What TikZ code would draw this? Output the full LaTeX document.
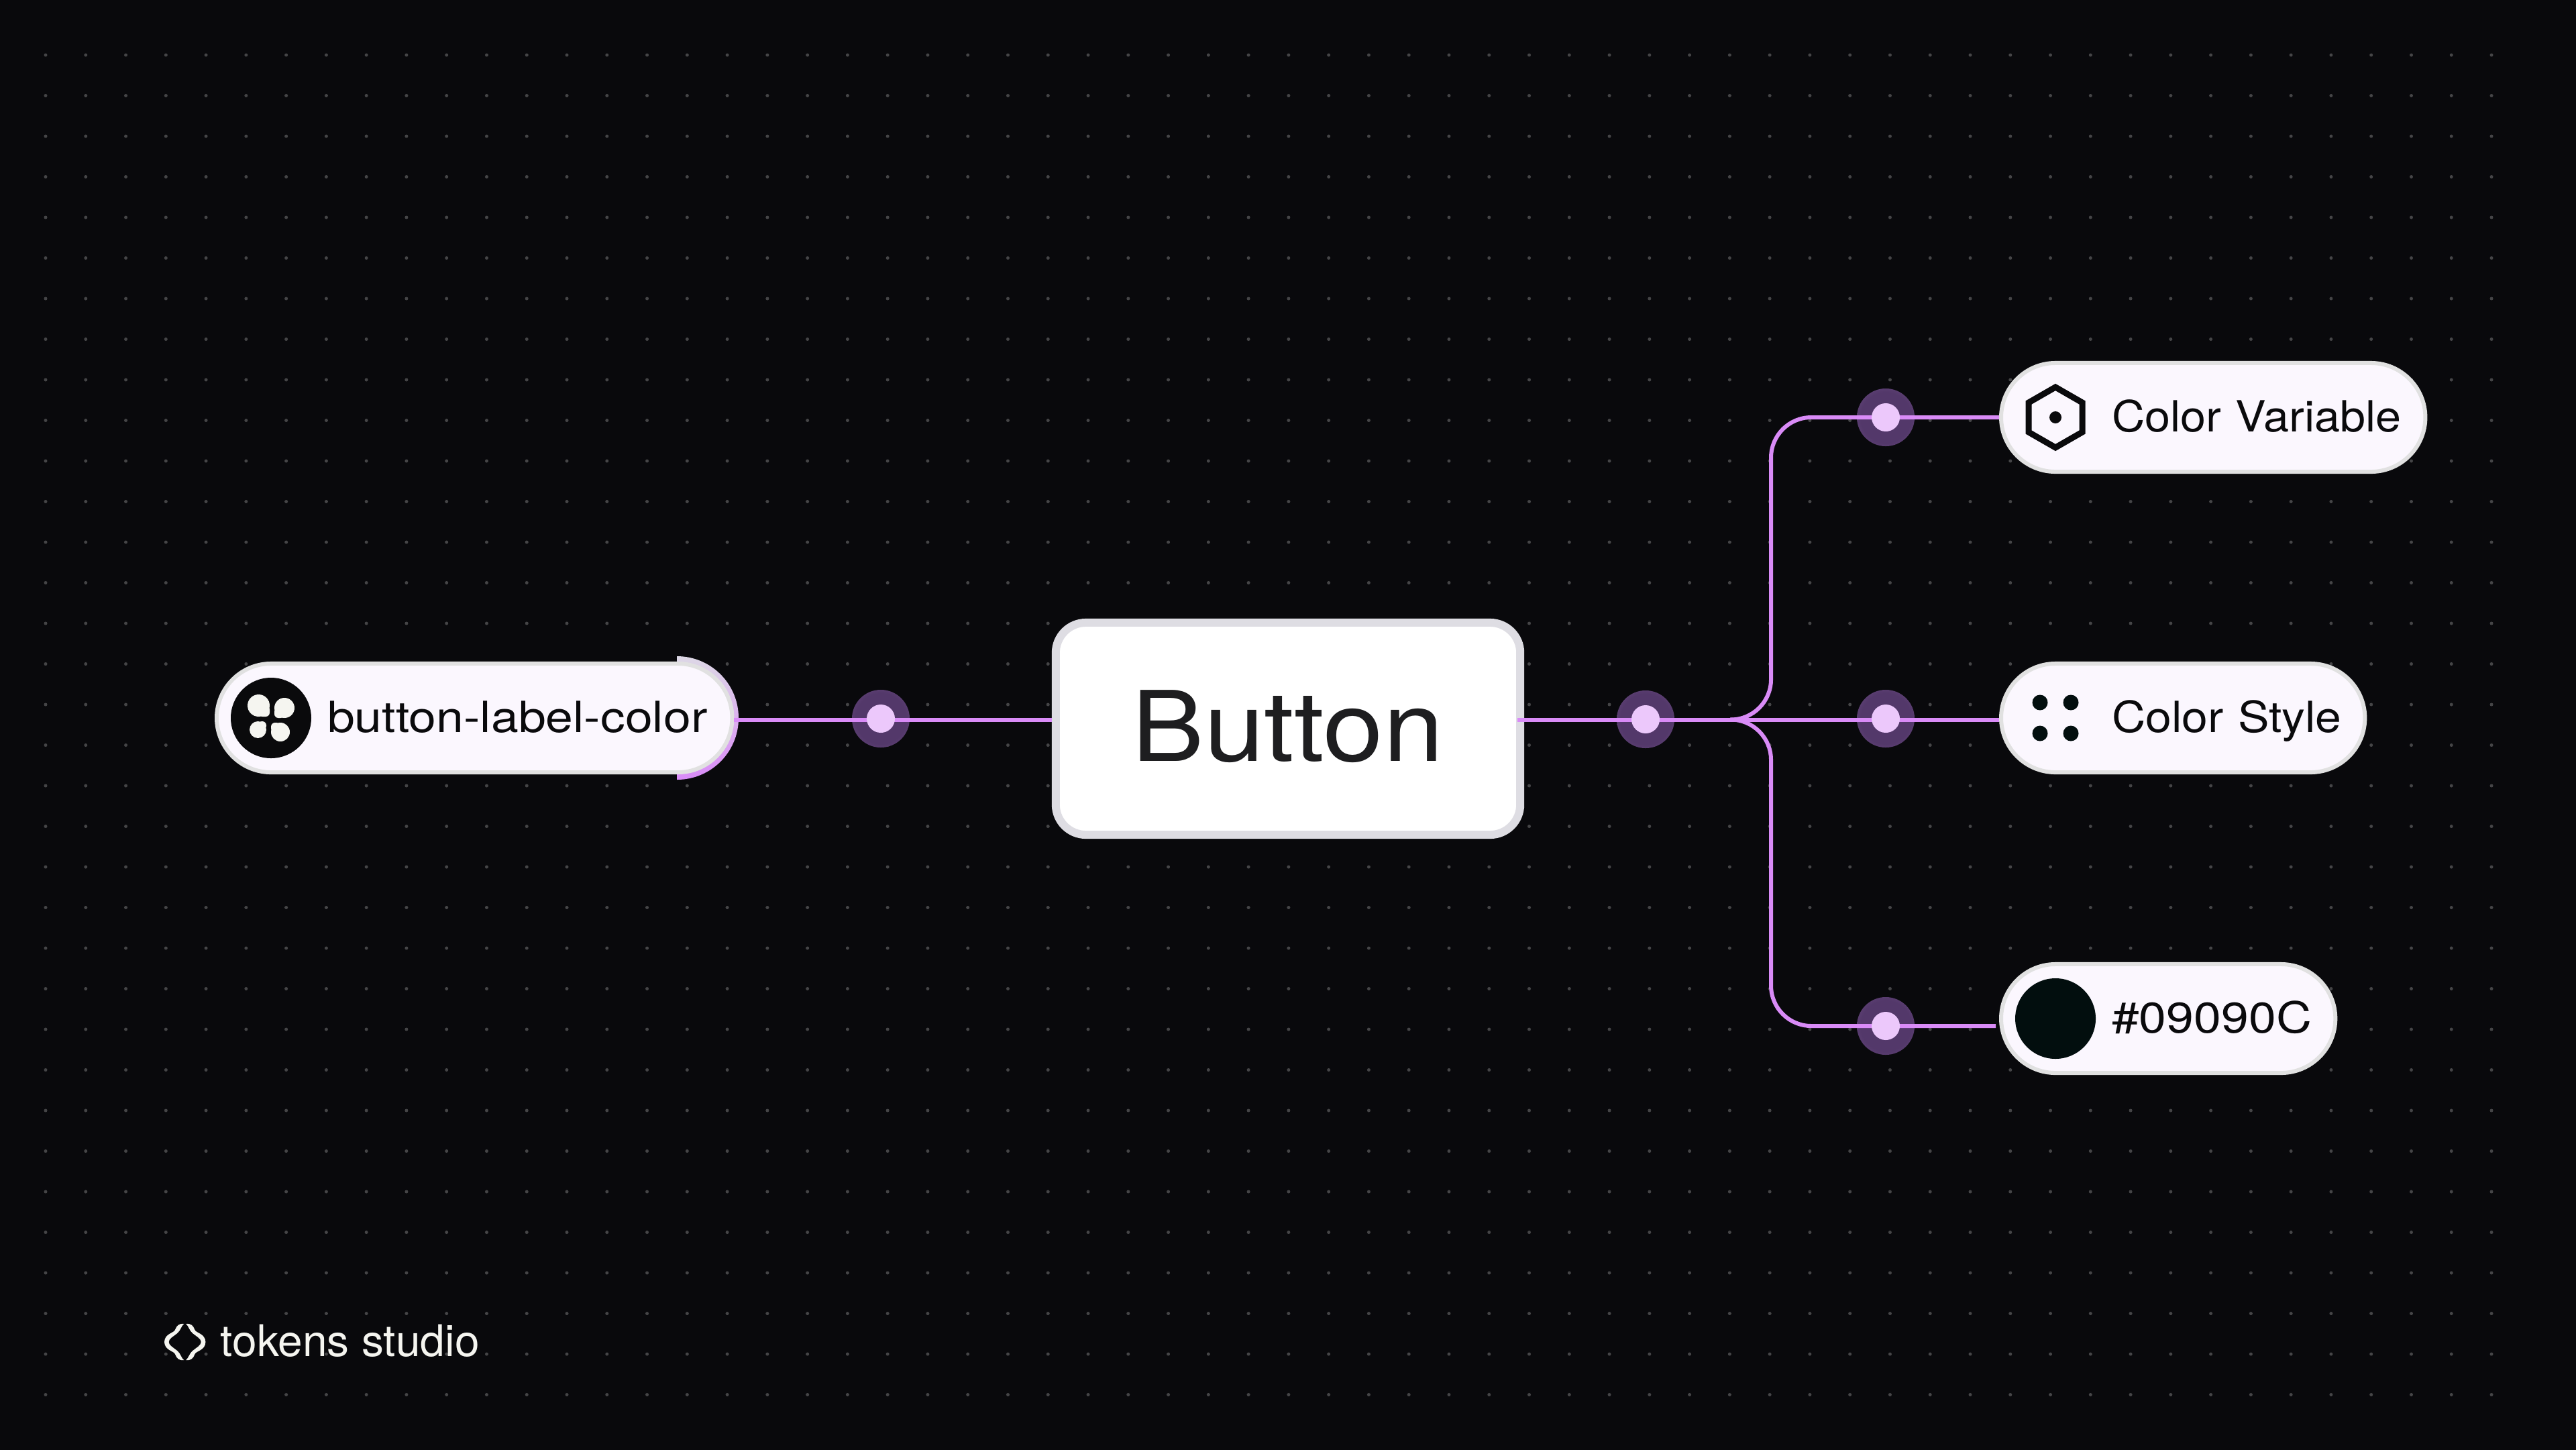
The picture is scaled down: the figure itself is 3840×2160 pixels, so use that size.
\documentclass[tikz,border=0pt]{standalone}
\usepackage{fontspec}
\setmainfont{TeX Gyre Heros}
\definecolor{StudioBlack}{HTML}{09090C}
\definecolor{StudioGrid}{HTML}{454547}
\definecolor{StudioWire}{HTML}{D98BF7}
\definecolor{StudioWireFade}{HTML}{DDD8E6}
\definecolor{StudioDot}{HTML}{ECC8FB}
\definecolor{StudioHaloCore}{HTML}{53386A}
\definecolor{StudioHaloEdge}{HTML}{86609C}
\definecolor{StudioPill}{HTML}{FBF7FE}
\definecolor{StudioPillEdge}{HTML}{E1E1E1}
\definecolor{StudioCardEdge}{HTML}{DEDDE3}
\definecolor{StudioInk}{HTML}{0A0A0C}
\definecolor{StudioCardInk}{HTML}{1E1E20}
\definecolor{StudioSwatch}{HTML}{020E0E}
\definecolor{StudioPaper}{HTML}{F5F5F0}
\pgfdeclareradialshading{handleglow}{\pgfpointorigin}{color(0bp)=(StudioHaloCore); color(22bp)=(StudioHaloCore); color(50bp)=(StudioHaloEdge)}
\newcommand{\widened}[2]{\addfontfeature{FakeStretch=#1}#2}
\tikzset{
  griddot/.style={fill=StudioGrid},
  wire/.style={draw=StudioWire,line width=0.06cm},
  handle/.style={circle,shading=handleglow,minimum size=0.86cm,inner sep=0pt},
  handledot/.style={circle,fill=StudioDot,minimum size=0.42cm,inner sep=0pt},
  pill/.style={draw=StudioPillEdge,fill=StudioPill,text=StudioInk,line width=0.06cm,
    rounded corners=0.81cm,minimum height=1.62cm,anchor=west,inner sep=0pt,align=left,
    text height=0.5cm,text depth=0.08cm,font=\fontsize{18.2pt}{22pt}\selectfont,
    execute at begin node={\hspace*{1.65cm}}},
  card/.style={draw=StudioCardEdge,fill=white,text=StudioCardInk,line width=0.12cm,
    rounded corners=0.45cm,minimum width=6.92cm,minimum height=3.16cm,inner sep=0pt,
    text height=1.13cm,text depth=0.17cm,font=\fontsize{41.3pt}{48pt}\selectfont},
  brand/.style={text=StudioPaper,anchor=base west,inner sep=0pt,font=\fontsize{18.5pt}{22pt}\selectfont}
}
\begin{document}
\begin{tikzpicture}[x=0.01cm,y=-0.01cm]
  \useasboundingbox (0,0) rectangle (3840,2160);
  \fill[StudioBlack] (-20,-20) rectangle (3860,2180);
  \foreach \i in {0,...,61}
    \foreach \j in {0,...,33}
      \fill[griddot] ({68+59.77*\i},{82+60.5*\j}) circle (2.5);

  \shade[top color=StudioWireFade,middle color=StudioWire!85!StudioWireFade,bottom color=StudioWire]
    (1009,978) arc[start angle=-90,end angle=90,radius=92] -- cycle;

  \node[card] (button) at (1920,1086) {\widened{1.11}{Button}};
  \node[pill,text width=7.68cm] (labelToken) at (320,1070) {\widened{1.147}{button-label-color}};
  \node[pill,text width=6.32cm] (colorVariable) at (2980,622) {\widened{1.068}{Color Variable}};
  \node[pill,text width=5.42cm] (colorStyle) at (2980,1070) {\widened{1.09}{Color Style}};
  \node[pill,text width=4.98cm] (colorHex) at (2980,1518) {\widened{1.147}{\#09090C}};

  \fill[StudioInk] (404,1070) circle (60);
  \foreach \cx/\cy/\r/\sx/\sy in {385.5/1051.5/16.5/1/1,424/1055/15/-1/1,384.5/1087.5/12.5/1/-1,418/1091/14/-1/-1} {
    \fill[StudioPaper] (\cx,\cy) circle (\r);
    \fill[StudioPaper,rounded corners=0.06cm] (\cx,\cy) rectangle ({\cx+\sx*\r},{\cy+\sy*\r});
  }
  \draw[StudioInk,line width=0.09cm,miter limit=3]
    (3064,577) -- (3104,600) -- (3104,644) -- (3064,667) -- (3024,644) -- (3024,600) -- cycle;
  \fill[StudioInk] (3064,622) circle (9);
  \foreach \dx in {3041,3087}
    \foreach \dy in {1047,1093}
      \fill[StudioSwatch] (\dx,\dy) circle (11.5);
  \fill[StudioSwatch] (3064,1518) circle (60);

  \foreach \name/\hx/\hy in {handleIn/1313/1071,handleOut/2453/1072,handleTop/2811/622,handleMid/2811/1071,handleLow/2811/1529}
    \node[handle] (\name) at (\hx,\hy) {};

  \coordinate (junction) at (2579,1072.5);
  \coordinate (trunk) at (2640,1072.5);
  \coordinate (buttonOut) at (2262,1072.5);
  \coordinate (hexIn) at (2975,1529);
  \draw[wire] (labelToken.east |- junction) -- (button.west |- junction);
  \draw[wire] (buttonOut) -- (junction) -- (junction -| colorStyle.west);
  \draw[wire,rounded corners=0.6cm] (junction) -- (trunk) |- (colorVariable.west);
  \draw[wire,rounded corners=0.6cm] (junction) -- (trunk) |- (hexIn);

  \foreach \name in {handleIn,handleOut,handleTop,handleMid,handleLow}
    \node[handledot] (\name Dot) at (\name) {};

  \begin{scope}[shift={(275.7,2000)}]
    \foreach \sx/\sy in {1/1,-1/1,1/-1,-1/-1}
      \fill[StudioPaper,xscale=\sx,yscale=\sy]
        (-1.5,-27) .. controls (-9,-28) and (-12.5,-24) .. (-14.5,-18.5)
        .. controls (-16,-13) and (-30.5,-13) .. (-30.7,0.3) -- (-24.2,0.3)
        .. controls (-24.2,-5) and (-17,-8.5) .. (-11.5,-13)
        .. controls (-6.5,-17) and (-5.5,-24) .. (-1.5,-27) -- cycle;
  \end{scope}
  \node[brand] (brandName) at (328,2021) {\widened{1.013}{tokens studio}};
\end{tikzpicture}
\end{document}
